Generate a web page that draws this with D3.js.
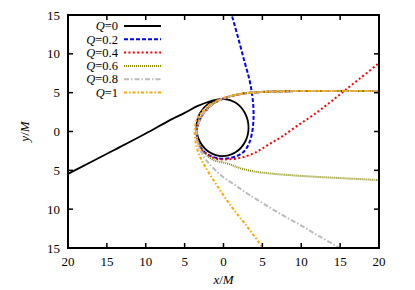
<!DOCTYPE html>
<html><head><meta charset="utf-8">
<script src="https://cdn.jsdelivr.net/npm/d3@7"></script>
<style>body{margin:0;background:#fff}svg{display:block}</style>
</head><body>
<svg id="c" width="415" height="290" font-family="'Liberation Serif', 'Times New Roman', 'DejaVu Serif', serif"></svg>
<script>
const xTicks = [-20,-15,-10,-5,0,5,10,15,20];
const yTicks = [-15,-10,-5,0,5,10,15];
const qLabels = ["0","0.2","0.4","0.6","0.8","1"];
const colors = ["#000000","#0000ff","#ff0000","#888800","#bbbbbb","#ffa500"];
const dashes = ["none","4,2","2,2.4","1,1","5,2,1.5,2","3,2,1.5,2"];

// shared incoming branch (from the right along y≈5.2, round the left of the circle)
const inBranch = [[20,5.2],[14,5.2],[9,5.2],[6,5.13],[4,5.03],[2.5,4.88],[0.8,4.5],[-0.9,3.85],[-2.2,2.8],[-3.05,1.5],[-3.42,0.3]];

const q0 = [[-20,-5.45],[-14,-2.35],[-10,-0.25],[-7,1.4],[-5,2.4],[-3.3,3.3],[-2,3.8],[-1.0,4.08],[0,4.19],[1.53,3.72],[2.75,2.38],[3.22,0.52],[2.78,-1.32],[1.55,-2.68],[-0.13,-3.17],[-1.8,-2.68],[-3.03,-1.32],[-3.47,0.52],[-3.03,2.36],[-1.9,3.62],[-1.0,4.02]];
const q02 = [[-3.3,-1.2],[-2.5,-2.6],[-1.3,-3.3],[0,-3.5],[1.5,-3.25],[2.6,-2.6],[3.3,-1.5],[3.7,0],[3.85,1.5],[3.85,3.0],[3.7,4.6],[3.35,6.6],[2.7,9.0],[1.9,12],[1.0,15.2]];
const q04 = [[-2.9,-2.16],[-2.0,-3.0],[-0.9,-3.5],[0.8,-3.57],[2.55,-3.3],[4.3,-2.6],[6,-1.55],[7.5,-0.66],[9.5,0.75],[11.55,2.13],[13.5,3.6],[15.4,5.13],[17.5,6.8],[20,8.8]];
const q06 = [[-3.3,-1.2],[-2.6,-2.6],[-1.3,-3.66],[0.4,-4.09],[1.8,-4.6],[3.4,-5.05],[6,-5.4],[10,-5.72],[15,-6.0],[20,-6.25]];
const q08 = [[-3.35,-1.2],[-3.0,-2.37],[-2.3,-3.6],[-1.3,-4.73],[0,-5.9],[1.5,-6.9],[3,-7.95],[5,-9.2],[7.3,-10.6],[9.8,-12.0],[12,-13.3],[14.6,-14.8],[15,-15.1]];
const q1 = [[-3.7,0.45],[-3.65,-0.9],[-3.4,-2.2],[-2.9,-3.5],[-2.38,-4.5],[-1.3,-6.25],[0.85,-9.45],[3,-12.2],[4.9,-14.8],[5.05,-15.1]];
const q1Top = [[20,5.2],[14,5.2],[9,5.2],[6,5.13],[4,5.03],[2.5,4.88],[0.8,4.55],[-1.0,3.9],[-2.5,2.85],[-3.4,1.6],[-3.7,0.45]];

const series = [
  q0,
  inBranch.concat(q02),
  inBranch.concat([[-3.4,-1.0]]).concat(q04),
  inBranch.concat(q06),
  inBranch.concat(q08),
  q1Top.concat(q1.slice(1))
];

const svg = d3.select("#c");
const L=68, R=379, T=15, B=248;
const x = d3.scaleLinear().domain([-20,20]).range([L,R]);
const y = d3.scaleLinear().domain([-15,15]).range([B,T]);

svg.append("defs").append("clipPath").attr("id","clip")
  .append("rect").attr("x",L).attr("y",T).attr("width",R-L).attr("height",B-T);

const line = d3.line().x(d=>x(d[0])).y(d=>y(d[1])).curve(d3.curveCatmullRom.alpha(0.5));
const g = svg.append("g").attr("clip-path","url(#clip)");
series.forEach((s,i)=>{
  g.append("path").attr("d",line(s)).attr("fill","none")
   .attr("stroke",colors[i]).attr("stroke-width",i===0?1.8:2)
   .attr("stroke-dasharray",dashes[i]);
});

// axes
const tickLen = 5;
const ax = svg.append("g").attr("stroke","#000").attr("stroke-width",1.5);
xTicks.forEach(t=>{
  ax.append("line").attr("x1",x(t)).attr("x2",x(t)).attr("y1",B).attr("y2",B-tickLen);
  ax.append("line").attr("x1",x(t)).attr("x2",x(t)).attr("y1",T).attr("y2",T+tickLen);
});
yTicks.forEach(t=>{
  ax.append("line").attr("x1",L).attr("x2",L+tickLen).attr("y1",y(t)).attr("y2",y(t));
  ax.append("line").attr("x1",R).attr("x2",R-tickLen).attr("y1",y(t)).attr("y2",y(t));
});
svg.append("rect").attr("x",L).attr("y",T).attr("width",R-L).attr("height",B-T)
  .attr("fill","none").attr("stroke","#000").attr("stroke-width",2);

const fs = 13;
xTicks.forEach(t=>{
  svg.append("text").attr("x",x(t)).attr("y",B+18).attr("text-anchor","middle")
    .attr("font-size",fs).text(String(Math.abs(t)));
});
yTicks.forEach(t=>{
  svg.append("text").attr("x",L-8).attr("y",y(t)+4.5).attr("text-anchor","end")
    .attr("font-size",fs).text(String(Math.abs(t)));
});

const xl = svg.append("text").attr("x",(L+R)/2).attr("y",284).attr("text-anchor","middle").attr("font-size",fs);
xl.append("tspan").attr("font-style","italic").text("x");
xl.append("tspan").text("/");
xl.append("tspan").attr("font-style","italic").text("M");
const yl = svg.append("text").attr("transform",`translate(29,${(T+B)/2}) rotate(-90)`).attr("text-anchor","middle").attr("font-size",fs);
yl.append("tspan").attr("font-style","italic").text("y");
yl.append("tspan").text("/");
yl.append("tspan").attr("font-style","italic").text("M");

// legend
const lfs = 12.5;
qLabels.forEach((q,i)=>{
  const yy = 26 + i*13.3;
  const t = svg.append("text").attr("x",118).attr("y",yy+4.2).attr("text-anchor","end").attr("font-size",lfs);
  t.append("tspan").attr("font-style","italic").text("Q");
  t.append("tspan").text("="+q);
  svg.append("line").attr("x1",124).attr("x2",161).attr("y1",yy).attr("y2",yy)
    .attr("stroke",colors[i]).attr("stroke-width",i===0?1.8:2).attr("stroke-dasharray",dashes[i]);
});
</script>
</body></html>
